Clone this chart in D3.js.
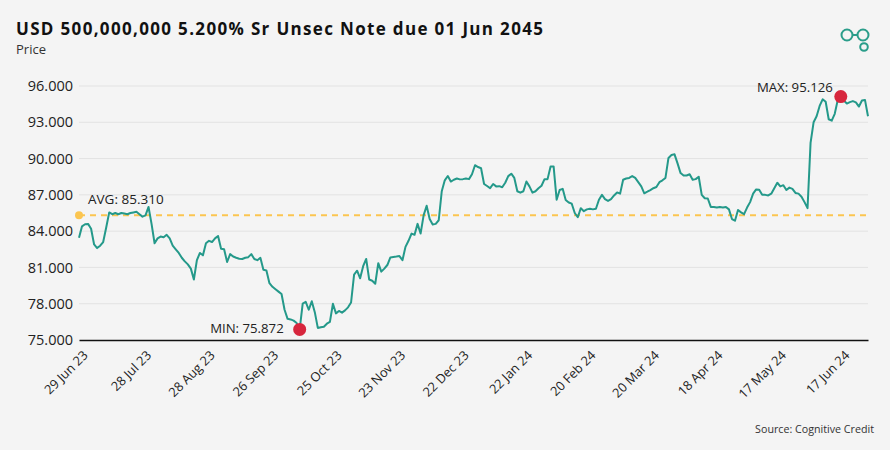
<!DOCTYPE html>
<html><head><meta charset="utf-8">
<script src="https://cdn.jsdelivr.net/npm/d3@7"></script>
<style>
html,body{margin:0;padding:0;background:#f4f4f4;}
svg{display:block;}
text{font-family:"Open Sans",sans-serif;}
</style></head>
<body><svg id="chart" width="890" height="450"></svg>
<script>
const title = "USD 500,000,000 5.200% Sr Unsec Note due 01 Jun 2045";
const subtitle = "Price";
const source = "Source: Cognitive Credit";
const startDate = "2023-06-29";
const tickLabels = ["29 Jun 23","28 Jul 23","28 Aug 23","26 Sep 23","25 Oct 23","23 Nov 23","22 Dec 23","22 Jan 24","20 Feb 24","20 Mar 24","18 Apr 24","17 May 24","17 Jun 24"];
const yTicks = [75,78,81,84,87,90,93,96];
const prices = [
83.46,84.40,84.57,84.60,84.20,82.90,82.60,82.80,83.10,84.30,
85.55,85.40,85.50,85.40,85.50,85.45,85.40,85.50,85.55,85.60,
85.40,85.20,85.30,86.00,84.60,83.00,83.40,83.55,83.50,83.70,
83.40,82.80,82.50,82.20,81.80,81.50,81.25,80.90,80.00,81.60,
82.20,82.00,83.00,83.20,83.10,83.40,83.60,82.55,82.50,81.45,
82.10,81.90,81.80,81.72,81.70,81.80,81.85,82.10,81.70,81.60,
81.80,80.80,80.75,79.70,79.40,79.20,79.00,78.80,77.50,76.75,
76.70,76.60,76.40,75.872,78.00,78.15,77.50,78.20,77.30,76.00,
76.05,76.10,76.35,76.50,78.00,77.20,77.40,77.26,77.45,77.70,
78.10,80.40,80.73,80.10,81.10,81.70,80.00,79.90,79.65,81.35,
80.65,80.90,81.20,81.83,81.87,81.90,81.94,81.60,82.70,83.20,
83.80,83.70,84.60,83.80,85.30,86.10,85.00,84.55,84.60,84.90,
87.30,88.20,88.56,88.10,88.25,88.35,88.28,88.30,88.35,88.30,
88.70,89.45,89.30,89.20,87.90,87.73,87.55,87.90,87.70,87.72,
87.63,88.00,88.55,88.75,88.40,87.30,87.18,87.30,88.10,87.70,
87.18,87.30,87.55,87.75,88.30,88.30,89.35,89.35,86.60,87.40,
87.50,86.57,86.37,86.27,85.50,85.15,85.90,85.65,85.80,85.85,
85.80,85.85,86.60,87.00,86.65,86.50,86.65,86.95,87.20,87.10,
88.25,88.35,88.40,88.55,88.40,88.05,87.70,87.13,87.26,87.40,
87.55,87.65,88.05,88.20,88.40,90.05,90.30,90.35,89.60,88.80,
88.60,88.60,88.70,88.25,88.30,88.50,87.00,86.72,86.70,86.00,
86.00,85.95,86.00,85.96,86.00,85.80,85.00,84.86,85.75,85.55,
85.40,85.95,86.40,87.10,87.45,87.42,87.00,87.00,86.95,87.10,
87.55,88.00,87.70,87.80,87.40,87.60,87.50,87.16,87.10,86.85,
86.40,85.90,91.30,93.00,93.50,94.35,94.90,94.70,93.25,93.13,
93.70,94.85,95.126,94.80,94.55,94.67,94.75,94.65,94.30,94.80,
94.85,93.50];
const avgValue = 85.310;
const tickEvery = 21;

// weekday categories starting at startDate
const dates = [];
{ let d = new Date(startDate + "T00:00:00Z");
  while (dates.length < prices.length) {
    const wd = d.getUTCDay();
    if (wd !== 0 && wd !== 6) dates.push(new Date(d));
    d.setUTCDate(d.getUTCDate() + 1);
  } }
const data = prices.map((v, i) => ({i, date: dates[i], v}));

const svg = d3.select("#chart");
const W = 890, H = 450;
const m = {left: 79, right: 22, top: 86, bottom: 110};
const x = d3.scaleLinear().domain([0, prices.length - 1]).range([m.left, W - m.right]);
const y = d3.scaleLinear().domain([75, 96]).range([H - m.bottom, m.top]);

svg.append("rect").attr("width", W).attr("height", H).attr("fill", "#f4f4f4");

// title
svg.append("text").attr("x", 16).attr("y", 35).text(title)
  .attr("font-family", "'Noto Sans', 'Open Sans', sans-serif").attr("font-weight", 700)
  .attr("font-size", 17).attr("fill", "#111")
  .attr("textLength", 527).attr("lengthAdjust", "spacing");
svg.append("text").attr("x", 16).attr("y", 54).text(subtitle)
  .attr("font-size", 13).attr("fill", "#333");

// logo
const lg = svg.append("g").attr("fill", "none").attr("stroke", "#2a9d8a").attr("stroke-width", 2);
lg.append("circle").attr("cx", 847).attr("cy", 35).attr("r", 5.5);
lg.append("circle").attr("cx", 863).attr("cy", 35).attr("r", 5.5);
lg.append("line").attr("x1", 852.5).attr("x2", 857.5).attr("y1", 35).attr("y2", 35);
lg.append("circle").attr("cx", 864).attr("cy", 47).attr("r", 3.8);

// grid + y labels
const gy = svg.append("g");
yTicks.forEach(v => {
  if (v !== 75) gy.append("line").attr("x1", m.left).attr("x2", W - m.right)
    .attr("y1", y(v)).attr("y2", y(v)).attr("stroke", "#e2e2e2").attr("stroke-width", 1);
});
const yAxis = svg.append("g").attr("transform", `translate(${m.left},0)`)
  .call(d3.axisLeft(y).tickValues(yTicks).tickSize(0).tickPadding(6).tickFormat(d3.format(".3f")));
yAxis.select(".domain").remove();
yAxis.selectAll("text").attr("font-size", 14.5).attr("fill", "#222").attr("font-family", "'Open Sans',sans-serif");

// x axis
const tickIdx = tickLabels.map((_, k) => k * tickEvery);
const xAxis = svg.append("g").attr("transform", `translate(0,${y(75)})`)
  .call(d3.axisBottom(x).tickValues(tickIdx).tickSize(0).tickPadding(0)
    .tickFormat((d, k) => tickLabels[k]));
xAxis.select(".domain").attr("stroke", "#111").attr("stroke-width", 1.5);
xAxis.selectAll("text").attr("font-size", 12.8).attr("fill", "#222")
  .attr("font-family", "'Open Sans',sans-serif")
  .attr("text-anchor", "end").attr("dy", "0.35em")
  .attr("transform", "translate(6,13) rotate(-45)");

// average line
svg.append("line").attr("x1", m.left).attr("x2", W - m.right)
  .attr("y1", y(avgValue)).attr("y2", y(avgValue))
  .attr("stroke", "#fbc550").attr("stroke-width", 2).attr("stroke-dasharray", "6,5");
svg.append("circle").attr("cx", m.left).attr("cy", y(avgValue)).attr("r", 4).attr("fill", "#fbc550");
svg.append("text").attr("x", m.left + 9).attr("y", y(avgValue) - 11)
  .text("AVG: " + d3.format(".3f")(avgValue)).attr("font-size", 13.5).attr("fill", "#222");

// line
svg.append("path").datum(data)
  .attr("d", d3.line().x(d => x(d.i)).y(d => y(d.v)))
  .attr("fill", "none").attr("stroke", "#24998a").attr("stroke-width", 2).attr("stroke-linejoin", "round");

// min / max
const minD = data.reduce((a, b) => b.v < a.v ? b : a);
const maxD = data.reduce((a, b) => b.v > a.v ? b : a);
svg.append("circle").attr("cx", x(minD.i)).attr("cy", y(minD.v)).attr("r", 6.5).attr("fill", "#d7263d");
svg.append("text").attr("x", x(minD.i) - 16).attr("y", y(minD.v) + 4)
  .attr("text-anchor", "end").text("MIN: " + d3.format(".3f")(minD.v)).attr("font-size", 13.2).attr("fill", "#222");
svg.append("circle").attr("cx", x(maxD.i)).attr("cy", y(maxD.v)).attr("r", 6.5).attr("fill", "#d7263d");
svg.append("text").attr("x", x(maxD.i) - 8).attr("y", y(maxD.v) - 5)
  .attr("text-anchor", "end").text("MAX: " + d3.format(".3f")(maxD.v)).attr("font-size", 13.2).attr("fill", "#222");

// source
svg.append("text").attr("x", 874).attr("y", 433).attr("text-anchor", "end")
  .text(source).attr("font-size", 10.7).attr("fill", "#333");
</script></body></html>
